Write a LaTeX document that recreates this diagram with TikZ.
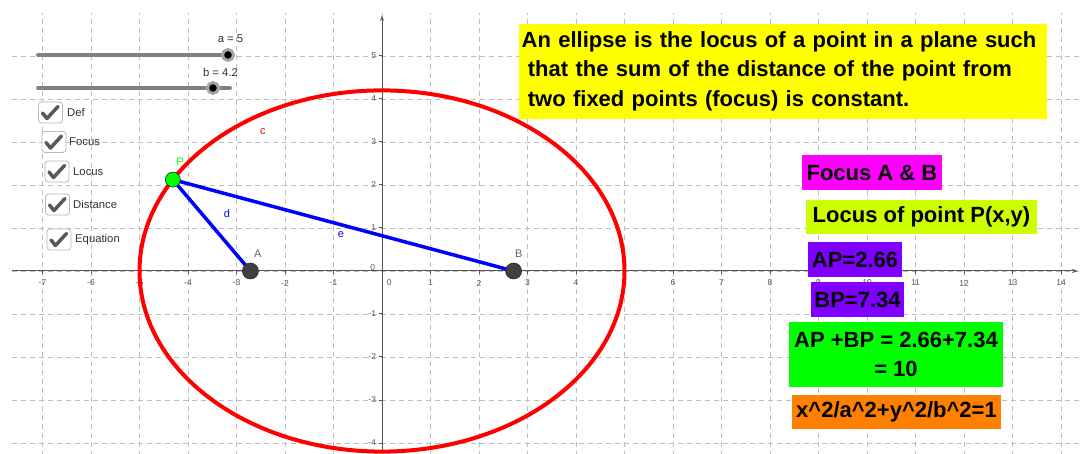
\documentclass[tikz,border=0pt]{standalone}
\usepackage{fontspec}
\setmainfont{Liberation Sans}
\usetikzlibrary{arrows.meta}
\definecolor{gridgray}{RGB}{190,190,190}
\definecolor{axisgray}{RGB}{85,85,85}
\definecolor{pointgray}{RGB}{64,64,64}
\definecolor{locusred}{RGB}{255,0,0}
\definecolor{segblue}{RGB}{0,0,255}
\definecolor{pgreen}{RGB}{0,255,0}
\definecolor{boxyellow}{RGB}{255,255,0}
\definecolor{boxmagenta}{RGB}{255,0,255}
\definecolor{boxlime}{RGB}{204,255,0}
\definecolor{boxpurple}{RGB}{127,0,255}
\definecolor{boxgreen}{RGB}{0,255,0}
\definecolor{boxorange}{RGB}{255,127,0}
% tick inside a check box node
\newcommand{\tickmark}[1]{\draw[checkline] ([shift={(-8,0.5)}]#1.center) -- ([shift={(-3.5,6)}]#1.center) -- ([shift={(7.5,-6)}]#1.center);}

\begin{document}
\begin{tikzpicture}[x=1pt,y=-1pt,
  gridline/.style={gridgray, line width=0.7pt, dash pattern=on 5pt off 4pt},
  axisline/.style={axisgray, line width=1pt},
  ticklabel/.style={font=\fontsize{8.5}{9}\selectfont, text=axisgray, inner sep=0pt},
  ptlabel/.style={font=\fontsize{11}{12}\selectfont, inner sep=0pt},
  fpoint/.style={circle, fill=pointgray, draw=black!85, line width=0.6pt, minimum size=16pt, inner sep=0pt},
  uitext/.style={font=\fontsize{11.3}{12}\selectfont, text=black!80, inner sep=0pt},
  chkbox/.style={draw=black!28, line width=0.8pt, fill=white, rounded corners=3pt, minimum width=24pt, minimum height=21pt, inner sep=0pt},
  checkline/.style={black!65, line width=3.5pt, line cap=round, line join=round},
  sliderline/.style={black!50, line width=4pt, line cap=round},
  knob/.style={circle, fill=black, draw=black!35, line width=3pt, minimum size=11pt, inner sep=0pt},
  infobox/.style={font=\fontsize{22}{29.5}\selectfont\bfseries, inner sep=0pt, align=center}]
\useasboundingbox (0,0) rectangle (1082,454);
\fill[white] (0,0) rectangle (1082,454);

% the graphics view, one unit = one grid square
\begin{scope}[shift={(382,271)}, x=48.5pt, y=43pt]
\foreach \i in {-7,-6,...,14} \draw[gridline] (\i,-4.3) -- (\i,6.0);
\foreach \j in {-4,-3,...,5} \draw[gridline] (-7.63,\j) -- (14.5,\j);
\draw[axisline, -{Stealth[length=6pt, width=4pt]}] (-7.62,0) -- (14.35,0);
\draw[axisline, -{Stealth[length=6pt, width=4pt]}] (0,-4.3) -- (0,5.95);
\foreach \i in {-7,-6,...,-1,1,2,...,14} {
  \draw[axisline] (\i,0) -- ++(0,-3pt);
  \node[ticklabel] (xl\i) at (\i,-0.28) {\i};
}
\foreach \j in {-4,-3,-2,-1,1,2,3,4,5} {
  \draw[axisline] (0,\j) -- ++(-3pt,0);
  \node[ticklabel, anchor=east] (yl\j) at (-0.12,\j) {\j};
}
\node[ticklabel] (yl0) at (-0.19,0.07) {0};
\node[ticklabel] (xl0) at (0.15,-0.28) {0};

% locus of P
\draw[locusred, line width=4pt] (0,0) ellipse [x radius=5, y radius=4.2];

\coordinate (A) at (-2.713,0);
\coordinate (B) at (2.713,0);
\coordinate (P) at (-4.3125,2.125);
\draw[segblue, line width=3.5pt] (P) -- (A);
\draw[segblue, line width=3.5pt] (P) -- (B);
\node[fpoint] (ptA) at (A) {};
\node[fpoint] (ptB) at (B) {};
\node[fpoint, fill=pgreen, minimum size=15pt] (ptP) at (P) {};

\node[ptlabel, text=black!60] (labA) at (-2.56,0.40) {A};
\node[ptlabel, text=black!60] (labB) at (2.82,0.40) {B};
\node[ptlabel, text=pgreen] (labP) at (-4.165,2.535) {P};
\node[ptlabel, text=locusred] (labc) at (-2.454,3.233) {c};
\node[ptlabel, text=segblue] (labd) at (-3.196,1.326) {d};
\node[ptlabel, text=segblue] (labe) at (-0.845,0.837) {e};
\end{scope}

% sliders
\coordinate (aStart) at (38,55);
\coordinate (aEnd) at (232,55);
\draw[sliderline] (aStart) -- (aEnd);
\node[knob] (aKnob) at (228,55) {};
\node[uitext] (aLabel) at (230.5,39) {a = 5};
\coordinate (bStart) at (38,88);
\coordinate (bEnd) at (230,88);
\draw[sliderline] (bStart) -- (bEnd);
\node[knob] (bKnob) at (213,88) {};
\node[uitext] (bLabel) at (220.5,72) {b = 4.2};

% check boxes
\node[chkbox] (cbDef) at (50.5,112.5) {};
\tickmark{cbDef}
\node[uitext, anchor=west] (lbDef) at (67,112.5) {Def};
\node[chkbox] (cbFocus) at (54,142) {};
\tickmark{cbFocus}
\node[uitext, anchor=west] (lbFocus) at (69,142) {Focus};
\node[chkbox] (cbLocus) at (57,171.5) {};
\tickmark{cbLocus}
\node[uitext, anchor=west] (lbLocus) at (73,171.5) {Locus};
\node[chkbox] (cbDist) at (57.5,204.5) {};
\tickmark{cbDist}
\node[uitext, anchor=west] (lbDist) at (73,204.5) {Distance};
\node[chkbox] (cbEq) at (59,239.5) {};
\tickmark{cbEq}
\node[uitext, anchor=west] (lbEq) at (75,239.5) {Equation};

% text boxes
\node[infobox, fill=boxyellow, anchor=north west, text width=523pt, inner xsep=2.5pt, inner ysep=0pt, minimum height=95pt, align=left] (defbox) at (519,24)
  {\raisebox{-2.5pt}{}An ellipse is the locus of a point in a plane such\\ \hspace*{0.28em}that the sum of the distance of the point from\\ \hspace*{0.28em}two fixed points (focus) is constant.\rule[-6pt]{0pt}{1pt}};
\node[infobox, fill=boxmagenta, minimum width=140pt, minimum height=35pt] (focusbox) at (872,172.5) {Focus A \& B};
\node[infobox, fill=boxlime, minimum width=231pt, minimum height=34pt] (locusbox) at (921.5,217) {Locus of point P(x,y)};
\node[infobox, fill=boxpurple, minimum width=94pt, minimum height=35pt] (apbox) at (855,259.5) {AP=2.66};
\node[infobox, fill=boxpurple, minimum width=93pt, minimum height=35pt] (bpbox) at (857.5,299.5) {BP=7.34};
\node[infobox, fill=boxgreen, minimum width=214pt, minimum height=65pt] (sumbox) at (896,354.5) {AP +BP = 2.66+7.34\\= 10};
\node[infobox, fill=boxorange, minimum width=209pt, minimum height=34pt] (eqbox) at (896.5,412) {x\textasciicircum2/a\textasciicircum2+y\textasciicircum2/b\textasciicircum2=1};
\end{tikzpicture}
\end{document}
